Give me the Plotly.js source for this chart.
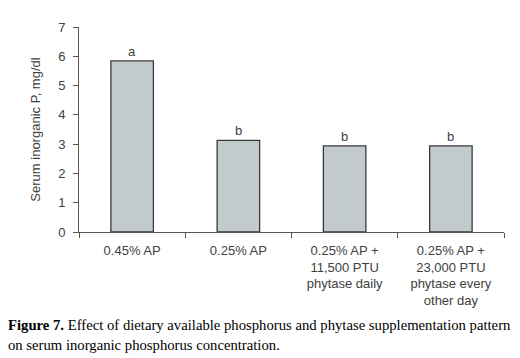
<!DOCTYPE html>
<html>
<head>
<meta charset="utf-8">
<script src="https://cdn.plot.ly/plotly-3.0.1.min.js"></script>
<style>html,body{margin:0;padding:0;background:#fff;}#chart{width:520px;height:358px;}</style>
</head>
<body>
<div id="chart"></div>
<script>
const categories = [
  "0.45% AP",
  "0.25% AP",
  "0.25% AP +<br>11,500 PTU<br>phytase daily",
  "0.25% AP +<br>23,000 PTU<br>phytase every<br>other day"
];
const values = [5.84, 3.13, 2.94, 2.94];
const letters = ["a", "b", "b", "b"];
const yTicks = [0, 1, 2, 3, 4, 5, 6, 7];
const yTitle = "Serum inorganic P, mg/dl";
const captionLine1 = "<b>Figure 7.</b> Effect of dietary available phosphorus and phytase supplementation pattern";
const captionLine2 = "on serum inorganic phosphorus concentration.";

const textColor = "#404040";

const trace = {
  type: "bar",
  x: categories,
  y: values,
  width: 0.4,
  marker: {color: "#c3cacd", line: {color: "#3a3a3a", width: 1.3}},
  hoverinfo: "skip"
};

const annotations = categories.map((c, i) => ({
  x: c, y: values[i], xref: "x", yref: "y",
  text: letters[i], showarrow: false, yanchor: "bottom", yshift: 0,
  font: {family: "Liberation Sans, Arial, sans-serif", size: 13, color: textColor}
}));
annotations.push({
  xref: "paper", yref: "paper", x: 0, y: 0, xanchor: "left", yanchor: "middle",
  xshift: -73, yshift: -93, showarrow: false, text: captionLine1,
  font: {family: "Liberation Serif, Times New Roman, serif", size: 14.7, color: "#000"}
});
annotations.push({
  xref: "paper", yref: "paper", x: 0, y: 0, xanchor: "left", yanchor: "middle",
  xshift: -73, yshift: -113, showarrow: false, text: captionLine2,
  font: {family: "Liberation Serif, Times New Roman, serif", size: 14.7, color: "#000"}
});

const layout = {
  width: 520, height: 358,
  margin: {l: 79, r: 16, t: 27, b: 126, pad: 0},
  paper_bgcolor: "#fff", plot_bgcolor: "#fff",
  showlegend: false,
  font: {family: "Liberation Sans, Arial, sans-serif", size: 13, color: textColor},
  xaxis: {
    type: "category",
    showline: true, linecolor: "#555", linewidth: 1,
    ticks: "outside", tickson: "boundaries", ticklen: 5, tickcolor: "#555",
    ticklabelstandoff: 6,
    showgrid: false, zeroline: false, automargin: false,
    tickfont: {size: 13, color: textColor}
  },
  yaxis: {
    range: [0, 7], tickvals: yTicks,
    showline: true, linecolor: "#555", linewidth: 1,
    ticks: "outside", ticklen: 5, tickcolor: "#555",
    ticklabelstandoff: 5,
    showgrid: false, zeroline: false, automargin: false,
    tickfont: {size: 13, color: textColor},
    title: {text: yTitle, standoff: 14, font: {size: 13, color: textColor}}
  },
  annotations: annotations,
  bargap: 0.6
};

Plotly.newPlot("chart", [trace], layout, {staticPlot: true, displayModeBar: false});
</script>
</body>
</html>
